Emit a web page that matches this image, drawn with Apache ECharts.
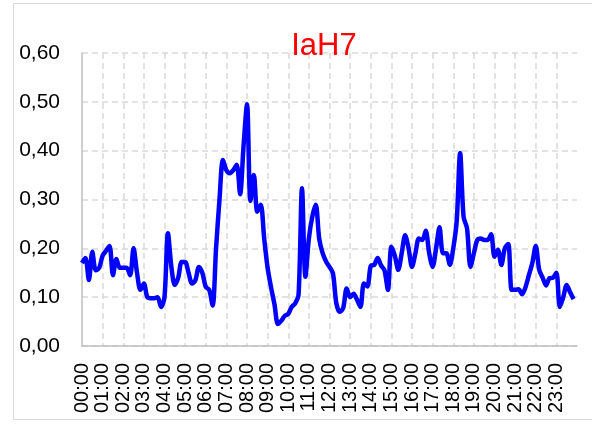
<!DOCTYPE html>
<html>
<head>
<meta charset="utf-8">
<script src="https://cdn.jsdelivr.net/npm/echarts@6/dist/echarts.min.js"></script>
<style>
  html, body { margin: 0; padding: 0; background: #fff; }
  #chart { width: 592px; height: 425px; }
</style>
</head>
<body>
<div id="chart"></div>
<script>
// 10-minute samples, 00:00 .. 23:50
const values = [
  0.170, 0.180, 0.135, 0.193, 0.155, 0.160,
  0.185, 0.195, 0.205, 0.145, 0.178, 0.160,
  0.160, 0.160, 0.145, 0.200, 0.150, 0.115,
  0.128, 0.100, 0.098, 0.098, 0.100, 0.080,
  0.100, 0.231, 0.162, 0.125, 0.140, 0.172,
  0.172, 0.150, 0.128, 0.135, 0.162, 0.150,
  0.121, 0.115, 0.083, 0.200, 0.300, 0.381,
  0.360, 0.354, 0.360, 0.371, 0.311, 0.410,
  0.495, 0.297, 0.350, 0.275, 0.289, 0.220,
  0.160, 0.120, 0.085, 0.045, 0.052, 0.062,
  0.066, 0.080, 0.087, 0.105, 0.323, 0.142,
  0.220, 0.265, 0.289, 0.220, 0.190, 0.173,
  0.162, 0.149, 0.087, 0.070, 0.078, 0.118,
  0.100, 0.107, 0.095, 0.080, 0.128, 0.122,
  0.164, 0.166, 0.180, 0.165, 0.155, 0.115,
  0.203, 0.185, 0.156, 0.190, 0.227, 0.200,
  0.162, 0.190, 0.220, 0.217, 0.236, 0.190,
  0.162, 0.200, 0.243, 0.190, 0.190, 0.166,
  0.200, 0.255, 0.395, 0.265, 0.241, 0.162,
  0.190, 0.217, 0.220, 0.217, 0.217, 0.229,
  0.183, 0.197, 0.166, 0.200, 0.209, 0.115,
  0.115, 0.116, 0.106, 0.120, 0.145, 0.170,
  0.205, 0.156, 0.140, 0.124, 0.139, 0.140,
  0.150, 0.080, 0.100, 0.125, 0.110, 0.096
];

// category labels HH:MM every 10 minutes
const times = [];
for (let h = 0; h < 24; h++) {
  for (let m = 0; m < 60; m += 10) {
    times.push(String(h).padStart(2, '0') + ':' + String(m).padStart(2, '0'));
  }
}
times.push('24:00');

const yTicks = [0, 0.1, 0.2, 0.3, 0.4, 0.5, 0.6];

const chart = echarts.init(document.getElementById('chart'), null, { renderer: 'canvas' });

const hourMark = (idx) => idx % 6 === 0 && idx < 144;

chart.setOption({
  animation: false,
  backgroundColor: '#fff',
  title: {
    text: 'IaH7',
    left: 319,
    top: 26,
    textAlign: 'center',
    textStyle: { color: '#ff0000', fontSize: 31, fontWeight: 'normal', fontFamily: 'Liberation Sans' }
  },
  graphic: [{
    type: 'rect',
    shape: { x: 13.5, y: 3.5, width: 600, height: 416 },
    style: { fill: 'none', stroke: '#d9d9d9', lineWidth: 1 },
    silent: true
  }],
  grid: { left: 82, right: 15, top: 53, bottom: 79 },
  xAxis: {
    type: 'category',
    data: times,
    boundaryGap: false,
    axisLine: { lineStyle: { color: '#bfbfbf', width: 1.5 } },
    axisTick: { show: false },
    axisLabel: {
      interval: (idx) => hourMark(idx),
      rotate: 90,
      margin: 17,
      color: '#000',
      fontSize: 20,
      fontFamily: 'Liberation Sans'
    },
    splitLine: {
      show: true,
      interval: (idx) => hourMark(idx) && idx > 0,
      lineStyle: { color: '#d9d9d9', width: 1.5, type: [6, 4] }
    }
  },
  yAxis: {
    type: 'value',
    min: yTicks[0],
    max: yTicks[yTicks.length - 1],
    interval: 0.1,
    axisLine: { show: true, lineStyle: { color: '#bfbfbf', width: 1.5 } },
    axisTick: { show: false },
    axisLabel: {
      margin: 22,
      color: '#000',
      fontSize: 21,
      fontFamily: 'Liberation Sans',
      formatter: (v) => v.toFixed(2).replace('.', ',')
    },
    splitLine: { lineStyle: { color: '#d9d9d9', width: 1.5, type: [6, 4] } }
  },
  series: [{
    type: 'line',
    data: values,
    smooth: 0.3,
    showSymbol: false,
    lineStyle: { color: '#0000ff', width: 4.5 }
  }]
});
</script>
</body>
</html>
